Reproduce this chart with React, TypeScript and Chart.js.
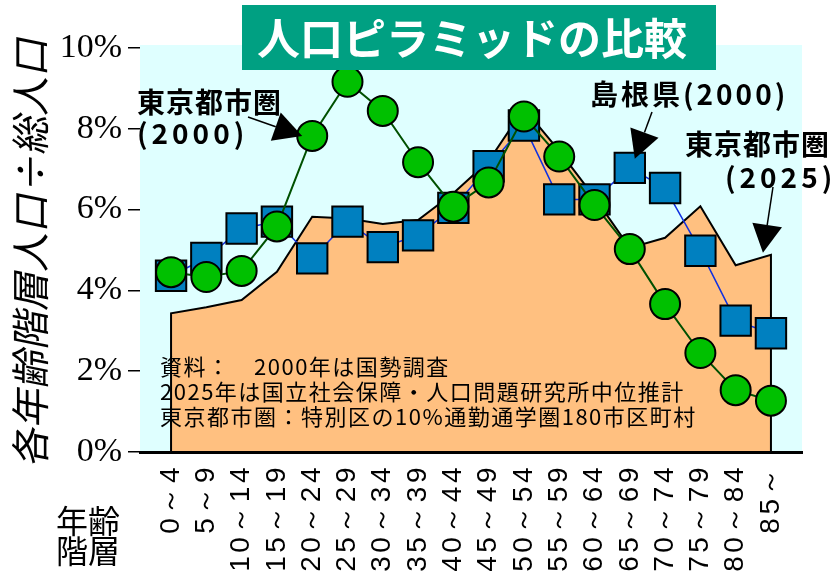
import React, { useEffect, useRef } from 'react';
import { Chart, registerables } from 'chart.js';

Chart.register(...registerables);

// ---- data ----
const ageGroups = ['0～4', '5～9', '10～14', '15～19', '20～24', '25～29', '30～34', '35～39', '40～44', '45～49', '50～54', '55～59', '60～64', '65～69', '70～74', '75～79', '80～84', '85～'];
const tokyo2000 = [4.45, 4.33, 4.48, 5.58, 7.82, 9.16, 8.44, 7.17, 6.07, 6.67, 8.30, 7.31, 6.11, 5.02, 3.66, 2.45, 1.53, 1.27];
const shimane2000 = [4.36, 4.80, 5.53, 5.70, 4.79, 5.70, 5.07, 5.36, 6.04, 7.07, 8.08, 6.25, 6.25, 7.03, 6.53, 4.98, 3.25, 2.94];
const tokyo2025 = [3.43, 3.58, 3.76, 4.46, 5.82, 5.78, 5.64, 5.74, 6.40, 7.20, 8.50, 7.45, 6.30, 5.05, 5.30, 6.08, 4.62, 4.88];
const yTicks = [0, 2, 4, 6, 8, 10];

const titleText = '人口ピラミッドの比較';
const yAxisTitle = '各年齢階層人口÷総人口';
const xAxisTitle = ['年齢', '階層'];
const noteLines = [
  '資料：　2000年は国勢調査',
  '2025年は国立社会保障・人口問題研究所中位推計',
  '東京都市圏：特別区の10%通勤通学圏180市区町村',
];
const labelTokyo2000 = ['東京都市圏', '(2000)'];
const labelShimane2000 = '島根県(2000)';
const labelTokyo2025 = ['東京都市圏', '(2025)'];

const CJK = '"Noto Sans CJK JP", "Noto Sans", sans-serif';

function drawArrow(ctx: CanvasRenderingContext2D, fx: number, fy: number, tx: number, ty: number) {
  const dx = tx - fx;
  const dy = ty - fy;
  const len = Math.hypot(dx, dy);
  const ux = dx / len;
  const uy = dy / len;
  const hl = 28;
  const hw = 15;
  const bx = tx - ux * hl;
  const by = ty - uy * hl;
  ctx.beginPath();
  ctx.moveTo(fx, fy);
  ctx.lineTo(bx, by);
  ctx.lineWidth = 1.5;
  ctx.strokeStyle = '#000';
  ctx.stroke();
  ctx.beginPath();
  ctx.moveTo(tx, ty);
  ctx.lineTo(bx - uy * hw, by + ux * hw);
  ctx.lineTo(bx + uy * hw, by - ux * hw);
  ctx.closePath();
  ctx.fillStyle = '#000';
  ctx.fill();
}

function setLS(ctx: any, v: string) {
  try { ctx.letterSpacing = v; } catch (e) { /* ignore */ }
}

const decorPlugin = {
  id: 'decor',
  beforeDraw(chart: any) {
    const { ctx, chartArea: a } = chart;
    ctx.save();
    ctx.fillStyle = '#DFFFFF';
    ctx.fillRect(a.left, a.top, a.right - a.left, a.bottom - a.top);
    ctx.restore();
  },
  afterDatasetsDraw(chart: any) {
    const { ctx } = chart;
    ctx.save();
    ctx.fillStyle = '#000';
    ctx.font = `22px ${CJK}`;
    ctx.textAlign = 'left';
    ctx.textBaseline = 'middle';
    setLS(ctx, '1.5px');
    noteLines.forEach((t, i) => ctx.fillText(t, 160, 367 + i * 25));
    ctx.restore();
  },
  afterDraw(chart: any) {
    const { ctx, chartArea: a } = chart;
    const xs = chart.scales.x;
    const ys = chart.scales.y;
    const px = (i: number, v: number) => ({ x: xs.getPixelForValue(i), y: ys.getPixelForValue(v) });

    ctx.save();
    // y axis title (slanted)
    ctx.save();
    ctx.translate(30, (a.top + a.bottom) / 2 + 1);
    ctx.rotate(-Math.PI / 2);
    ctx.transform(1, 0, -0.2, 1, 0, 0);
    ctx.fillStyle = '#000';
    ctx.font = `39px ${CJK}`;
    ctx.textAlign = 'center';
    ctx.textBaseline = 'middle';
    ctx.fillText(yAxisTitle, 0, 0);
    ctx.restore();

    // title box
    ctx.fillStyle = '#00A082';
    ctx.fillRect(242, 5, 474, 65);
    ctx.fillStyle = '#fff';
    ctx.font = `bold 43px ${CJK}`;
    ctx.textAlign = 'center';
    ctx.textBaseline = 'middle';
    ctx.fillText(titleText, 472, 39);

    // annotations
    ctx.fillStyle = '#000';
    ctx.font = `bold 28px ${CJK}`;
    ctx.textAlign = 'left';
    setLS(ctx, '1px');
    ctx.fillText(labelTokyo2000[0], 137, 102);
    ctx.fillText(labelTokyo2025[0], 685, 144);
    setLS(ctx, '3px');
    ctx.fillText(labelShimane2000, 590, 94);
    setLS(ctx, '4px');
    ctx.fillText(labelTokyo2000[1], 137, 133);
    ctx.fillText(labelTokyo2025[1], 725, 177);
    setLS(ctx, '0px');

    const t1 = px(4, tokyo2000[4]);
    drawArrow(ctx, 248, 117, t1.x - 10, t1.y);
    const t2 = px(13, shimane2000[13]);
    drawArrow(ctx, 652, 112, t2.x + 5, t2.y - 9);
    const t3 = px(17, tokyo2025[17]);
    drawArrow(ctx, 773, 187, t3.x - 8, t3.y - 2);

    // x axis title
    ctx.fillStyle = '#000';
    ctx.font = `32px ${CJK}`;
    ctx.textAlign = 'center';
    ctx.textBaseline = 'middle';
    ctx.fillText(xAxisTitle[0], 88, 521);
    ctx.fillText(xAxisTitle[1], 88, 551);
    ctx.restore();
  },
};

export default function App() {
  const ref = useRef<HTMLCanvasElement | null>(null);

  useEffect(() => {
    if (!ref.current) return;
    const areaData = [
      { x: 0, y: 0 },
      ...tokyo2025.map((v, i) => ({ x: i, y: v })),
      { x: tokyo2025.length - 1, y: 0 },
    ];
    const chart = new Chart(ref.current, {
      type: 'line',
      data: {
        datasets: [
          {
            label: '東京都市圏(2000)',
            data: tokyo2000.map((v, i) => ({ x: i, y: v })),
            borderColor: '#005000',
            borderWidth: 2,
            backgroundColor: '#00C000',
            pointBackgroundColor: '#00C000',
            pointBorderColor: '#000',
            pointBorderWidth: 2,
            pointRadius: 15,
            pointStyle: 'circle',
            tension: 0,
            fill: false,
            order: 0,
          },
          {
            label: '島根県(2000)',
            data: shimane2000.map((v, i) => ({ x: i, y: v })),
            borderColor: '#1030E0',
            borderWidth: 1.5,
            backgroundColor: '#0080C0',
            pointBackgroundColor: '#0080C0',
            pointBorderColor: '#000',
            pointBorderWidth: 2,
            pointRadius: 21.5,
            pointStyle: 'rect',
            tension: 0,
            fill: false,
            order: 1,
          },
          {
            label: '東京都市圏(2025)',
            data: areaData,
            borderColor: '#000',
            borderWidth: 2,
            backgroundColor: '#FFC080',
            pointRadius: 0,
            tension: 0,
            fill: 'origin',
            order: 2,
          },
        ],
      },
      options: {
        animation: false,
        responsive: false,
        devicePixelRatio: 1,
        layout: { padding: { top: 45, right: 29, left: 0, bottom: 0 } },
        plugins: {
          legend: { display: false },
          tooltip: { enabled: false },
          title: { display: false },
        },
        scales: {
          x: {
            type: 'linear',
            min: -0.88,
            max: 17.88,
            afterBuildTicks: (s: any) => {
              s.ticks = ageGroups.map((_, i) => ({ value: i }));
            },
            ticks: {
              callback: (v: any) => ageGroups[v],
              autoSkip: false,
              minRotation: 90,
              maxRotation: 90,
              padding: 12,
              color: '#000',
              font: { family: '"Liberation Sans", Arial, sans-serif', size: 28 },
            },
            grid: { display: false, drawTicks: false },
            border: { display: true, color: '#000', width: 3, z: 1 },
            afterFit: (s: any) => {
              s.height = 126;
              if (!s._lsPatched) {
                const orig = s.drawLabels.bind(s);
                s.drawLabels = (area: any) => {
                  const c = s.ctx;
                  c.save();
                  setLS(c, '3.5px');
                  orig(area);
                  c.restore();
                };
                s._lsPatched = true;
              }
            },
          },
          y: {
            min: 0,
            max: 10.07,
            afterBuildTicks: (s: any) => {
              s.ticks = yTicks.map((v) => ({ value: v }));
            },
            ticks: {
              callback: (v: any) => v + '%',
              color: '#000',
              padding: 6,
              font: { family: '"Liberation Serif", "Times New Roman", serif', size: 34 },
            },
            grid: { drawOnChartArea: false, drawTicks: true, tickLength: 12, color: '#000', lineWidth: 1.5 },
            border: { display: false },
            title: { display: false },
            afterFit: (s: any) => {
              s.width = 140;
            },
          },
        },
      } as any,
      plugins: [decorPlugin],
    });
    return () => chart.destroy();
  }, []);

  return (
    <div style={{ position: 'fixed', left: 0, top: 0, width: 831, height: 578, background: '#fff' }}>
      <canvas ref={ref} width={831} height={578} style={{ display: 'block' }} />
    </div>
  );
}
